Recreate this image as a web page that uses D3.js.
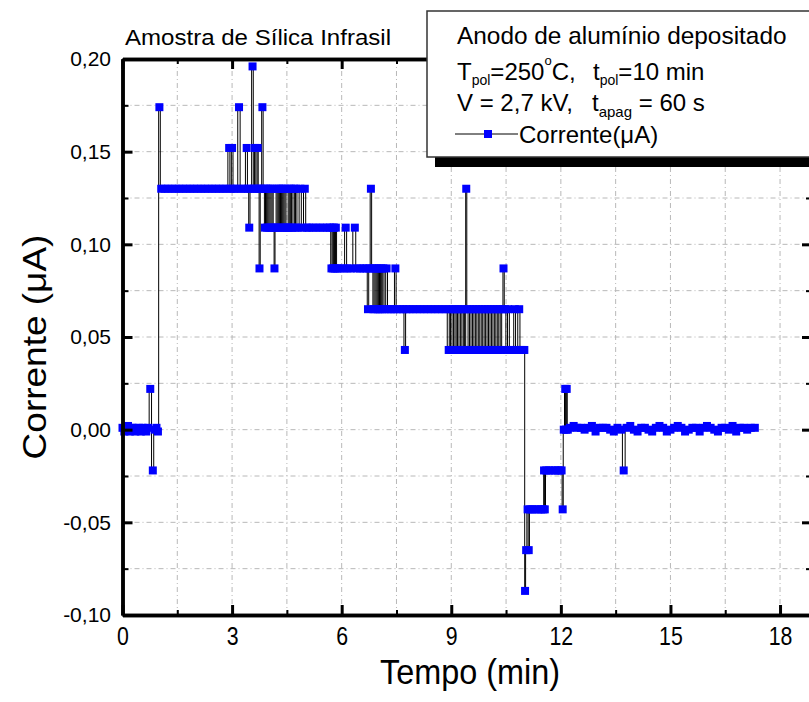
<!DOCTYPE html>
<html>
<head>
<meta charset="utf-8">
<title>Corrente x Tempo</title>
<script src="https://d3js.org/d3.v7.min.js"></script>
<style>
    body { margin: 0; background: #fff; }
    svg text { font-family: "Liberation Sans", Arial, sans-serif; fill: #000; }
</style>
</head>
<body>
<svg width="809" height="702" id="mainSvg"></svg>
<script>
    // leituras (min, uA)
    const tempo = [
        0.00, 0.05, 0.10, 0.15, 0.20, 0.25, 0.30, 0.35, 0.40, 0.45, 0.50, 0.55, 0.60, 0.65, 0.70, 0.76, 0.83, 0.88, 0.93, 0.97,
        1.01, 1.06,
        1.15, 1.25, 1.35, 1.45, 1.55, 1.65, 1.75, 1.85, 1.95, 2.05, 2.15, 2.25, 2.35, 2.45, 2.55, 2.65, 2.75, 2.85,
        2.92, 2.96, 3.00, 3.05, 3.12, 3.19, 3.25, 3.33, 3.40, 3.44, 3.47, 3.51, 3.56, 3.60, 3.63, 3.67, 3.70, 3.73, 3.75, 3.79, 3.83, 3.87,
        3.90, 3.93, 3.96, 3.99, 4.02, 4.05, 4.08, 4.11, 4.14, 4.16, 4.19, 4.22, 4.25, 4.28, 4.31, 4.34, 4.37,
        4.40, 4.43, 4.46, 4.49, 4.52, 4.55, 4.58, 4.61, 4.64, 4.69, 4.72, 4.75, 4.80, 4.87, 4.92, 4.99, 5.04,
        5.10, 5.20, 5.30, 5.40, 5.50, 5.60, 5.68, 5.72, 5.75, 5.77, 5.79, 5.82, 5.84, 5.88,
        5.95, 6.05, 6.11, 6.16, 6.25, 6.36, 6.41, 6.50, 6.60, 6.68,
        6.72, 6.76, 6.80, 6.84, 6.87, 6.90, 6.93, 6.96, 6.99, 7.02, 7.05, 7.08, 7.11, 7.14, 7.18, 7.23,
        7.28, 7.35, 7.42, 7.47, 7.51, 7.60, 7.68, 7.73, 7.77,
        7.85, 7.95, 8.05, 8.15, 8.25, 8.35, 8.45, 8.55, 8.65, 8.75, 8.85,
        8.93, 8.96, 9.00, 9.04, 9.08, 9.12, 9.15, 9.19, 9.23, 9.27, 9.31, 9.35, 9.38, 9.41, 9.44,
        9.48, 9.52, 9.56, 9.60, 9.64, 9.68, 9.72, 9.76, 9.80, 9.84, 9.88, 9.92,
        9.96, 10.00, 10.04, 10.08, 10.12, 10.16, 10.20, 10.24, 10.28, 10.32, 10.36, 10.40,
        10.43, 10.47, 10.52, 10.56, 10.62, 10.68, 10.74, 10.78, 10.86, 10.90, 10.95, 11.00,
        11.02, 11.05, 11.09, 11.12, 11.16, 11.22, 11.30, 11.38, 11.46, 11.52, 11.54, 11.56, 11.60,
        11.68, 11.76, 11.84, 11.92, 11.98, 12.02, 12.05, 12.08, 12.12, 12.14, 12.16, 12.19,
        12.25, 12.35, 12.45, 12.55, 12.65, 12.75, 12.85, 12.95, 13.05, 13.15,
        13.25, 13.35, 13.45, 13.55, 13.65, 13.72, 13.80, 13.90, 14.00, 14.10,
        14.20, 14.30, 14.40, 14.50, 14.60, 14.70, 14.80, 14.90, 15.00, 15.10,
        15.20, 15.30, 15.40, 15.50, 15.60, 15.70, 15.80, 15.90, 16.00, 16.10,
        16.20, 16.30, 16.40, 16.50, 16.60, 16.70, 16.80, 16.90, 17.00, 17.10,
        17.20, 17.31
    ];
    const corrente = [
        0.001, -0.001, 0.000, 0.002, -0.001, 0.001, 0.001, -0.001, 0.000, 0.001, -0.001, 0.001, 0.000, -0.001, 0.001, 0.022, -0.022, 0.000, 0.001, -0.001,
        0.174, 0.130,
        0.130, 0.130, 0.130, 0.130, 0.130, 0.130, 0.130, 0.130, 0.130, 0.130, 0.130, 0.130, 0.130, 0.130, 0.130, 0.130, 0.130, 0.130,
        0.152, 0.130, 0.152, 0.130, 0.130, 0.174, 0.130, 0.130, 0.152, 0.130, 0.109, 0.130, 0.196, 0.130, 0.152, 0.130, 0.152, 0.130, 0.087, 0.130, 0.174, 0.130,
        0.109, 0.130, 0.109, 0.130, 0.109, 0.130, 0.109, 0.130, 0.109, 0.087, 0.109, 0.130, 0.109, 0.130, 0.109, 0.130, 0.109,
        0.130, 0.109, 0.130, 0.109, 0.109, 0.130, 0.109, 0.130, 0.109, 0.130, 0.109, 0.130, 0.109, 0.130, 0.109, 0.130, 0.109,
        0.109, 0.109, 0.109, 0.109, 0.109, 0.109, 0.109, 0.087, 0.109, 0.087, 0.109, 0.087, 0.109, 0.087,
        0.087, 0.087, 0.109, 0.087, 0.087, 0.109, 0.087, 0.087, 0.087, 0.087,
        0.065, 0.087, 0.130, 0.087, 0.065, 0.087, 0.065, 0.087, 0.065, 0.087, 0.065, 0.087, 0.065, 0.087, 0.065, 0.087,
        0.065, 0.065, 0.065, 0.087, 0.065, 0.065, 0.065, 0.043, 0.065,
        0.065, 0.065, 0.065, 0.065, 0.065, 0.065, 0.065, 0.065, 0.065, 0.065, 0.065,
        0.043, 0.065, 0.043, 0.065, 0.043, 0.065, 0.043, 0.065, 0.043, 0.065, 0.043, 0.065, 0.043, 0.130, 0.065,
        0.043, 0.065, 0.043, 0.065, 0.043, 0.065, 0.043, 0.065, 0.043, 0.065, 0.043, 0.065,
        0.043, 0.065, 0.043, 0.065, 0.043, 0.065, 0.043, 0.065, 0.043, 0.065, 0.043, 0.065,
        0.087, 0.065, 0.043, 0.065, 0.043, 0.043, 0.065, 0.043, 0.065, 0.043, 0.043, 0.043,
        -0.087, -0.065, -0.043, -0.065, -0.043, -0.043, -0.043, -0.043, -0.043, -0.043, -0.022, -0.043, -0.022,
        -0.022, -0.022, -0.022, -0.022, -0.022, -0.022, -0.043, 0.000, 0.022, 0.000, 0.022, 0.000,
        0.001, 0.002, 0.001, 0.001, 0.000, 0.001, 0.002, -0.001, 0.001, 0.001,
        0.001, 0.000, -0.001, 0.001, 0.000, -0.022, 0.001, 0.002, 0.000, -0.001,
        0.001, 0.001, 0.000, -0.001, 0.001, 0.002, 0.001, -0.001, 0.000, 0.001,
        0.002, 0.001, -0.001, 0.000, 0.001, 0.001, -0.001, 0.001, 0.002, 0.001,
        0.000, -0.001, 0.001, 0.001, 0.000, 0.002, -0.001, 0.001, 0.001, 0.000,
        0.001, 0.001
    ];

    const xTicks = [0, 3, 6, 9, 12, 15, 18];
    const xMinor = [1.5, 4.5, 7.5, 10.5, 13.5, 16.5];
    const yTicks = [-0.10, -0.05, 0.00, 0.05, 0.10, 0.15, 0.20];
    const yMinor = [-0.075, -0.025, 0.025, 0.075, 0.125, 0.175];

    const mainSvg = d3.select('#mainSvg');
    const pLeft = 122.5, pRight = 812, pTop = 59, pBottom = 615;

    const x = d3.scaleLinear().domain([0, 18.875]).range([pLeft, pRight]);
    const y = d3.scaleLinear().domain([-0.10, 0.20]).range([pBottom, pTop]);

    const data = tempo.map((t, i) => ({ t: t, v: corrente[i] })).filter(d => d.v !== undefined);
    const virgula = d => d3.format(".2f")(d).replace(".", ",").replace("\u2212", "-");

    // grade tracejada
    const grid = mainSvg.append("g")
        .attr("stroke", "#b8b8b8")
        .attr("stroke-width", 1)
        .attr("stroke-dasharray", "5,3,1,3");
    grid.selectAll(".gx").data(xTicks.concat(xMinor).filter(d => d > 0)).join("line")
        .attr("class", "gx")
        .attr("x1", d => x(d)).attr("x2", d => x(d))
        .attr("y1", pTop).attr("y2", pBottom);
    grid.selectAll(".gy").data(yTicks.concat(yMinor).filter(d => d > -0.1 && d < 0.2)).join("line")
        .attr("class", "gy")
        .attr("y1", d => y(d)).attr("y2", d => y(d))
        .attr("x1", pLeft).attr("x2", pRight);

    // serie: leituras densas -> transicoes verticais
    const line = d3.line().curve(d3.curveStep).x(d => x(d.t)).y(d => y(d.v));
    mainSvg.append("path")
        .datum(data)
        .attr("fill", "none")
        .attr("stroke", "#000")
        .attr("stroke-width", 1)
        .attr("d", line);

    const sq = 8;
    mainSvg.append("g").selectAll("rect").data(data).join("rect")
        .attr("x", d => x(d.t) - sq / 2)
        .attr("y", d => y(d.v) - sq / 2)
        .attr("width", sq)
        .attr("height", sq)
        .attr("fill", "#0000ff");

    // eixos
    const styleAxis = (g, w) => {
        g.select(".domain").attr("stroke", "#000").attr("stroke-width", 3.5);
        g.selectAll(".tick line").attr("stroke", "#000").attr("stroke-width", w);
    };

    const axes = [
        { gen: d3.axisBottom(x), tr: `translate(0,${pBottom})` },
        { gen: d3.axisTop(x), tr: `translate(0,${pTop})` }
    ];
    axes.forEach(a => {
        mainSvg.append("g").attr("transform", a.tr)
            .call(a.gen.tickValues(xMinor).tickSize(-5).tickSizeOuter(0).tickFormat(""))
            .call(g => styleAxis(g, 2));
    });
    const yAxes = [
        { gen: d3.axisLeft(y), tr: `translate(${pLeft},0)` },
        { gen: d3.axisRight(y), tr: `translate(${pRight},0)` }
    ];
    yAxes.forEach(a => {
        mainSvg.append("g").attr("transform", a.tr)
            .call(a.gen.tickValues(yMinor).tickSize(-6).tickSizeOuter(0).tickFormat(""))
            .call(g => styleAxis(g, 2));
    });

    const xAxis = mainSvg.append("g").attr("transform", `translate(0,${pBottom})`)
        .call(d3.axisBottom(x).tickValues(xTicks).tickSize(-10).tickSizeOuter(0).tickPadding(11.5).tickFormat(d3.format("d")))
        .call(g => styleAxis(g, 3));
    xAxis.selectAll("text")
        .attr("font-size", 26)
        .attr("transform", "scale(0.82,1)");

    mainSvg.append("g").attr("transform", `translate(0,${pTop})`)
        .call(d3.axisTop(x).tickValues(xTicks).tickSize(-10).tickSizeOuter(0).tickFormat(""))
        .call(g => styleAxis(g, 3));

    const yAxis = mainSvg.append("g").attr("transform", `translate(${pLeft},0)`)
        .call(d3.axisLeft(y).tickValues(yTicks).tickSize(-10).tickSizeOuter(0).tickPadding(11.5).tickFormat(virgula))
        .call(g => styleAxis(g, 3));
    yAxis.selectAll("text").attr("font-size", 21);

    mainSvg.append("g").attr("transform", `translate(${pRight},0)`)
        .call(d3.axisRight(y).tickValues(yTicks).tickSize(-10).tickSizeOuter(0).tickFormat(""))
        .call(g => styleAxis(g, 3));

    // titulos
    mainSvg.append("text")
        .attr("x", 125).attr("y", 45)
        .attr("font-size", 22)
        .attr("textLength", 266)
        .attr("lengthAdjust", "spacingAndGlyphs")
        .text("Amostra de Sílica Infrasil");

    mainSvg.append("text")
        .attr("transform", "translate(46,347) rotate(-90) scale(1,0.9)")
        .attr("text-anchor", "middle")
        .attr("font-size", 37)
        .text("Corrente (\u03bcA)");

    mainSvg.append("text")
        .attr("transform", "translate(470,684) scale(0.9,1)")
        .attr("text-anchor", "middle")
        .attr("font-size", 36)
        .text("Tempo (min)");

    // legenda
    const leg = mainSvg.append("g");
    leg.append("rect")
        .attr("x", 435).attr("y", 21).attr("width", 420).attr("height", 146)
        .attr("fill", "#000");
    leg.append("rect")
        .attr("x", 427).attr("y", 11).attr("width", 420).attr("height", 146)
        .attr("fill", "#fff").attr("stroke", "#333").attr("stroke-width", 1.5);

    leg.append("text").attr("x", 457).attr("y", 44).attr("font-size", 24.4)
        .text("Anodo de alumínio depositado");

    const l2 = leg.append("text").attr("x", 457).attr("y", 80).attr("font-size", 24);
    l2.append("tspan").text("T");
    l2.append("tspan").attr("font-size", 14).attr("dy", 5).text("pol");
    l2.append("tspan").attr("dy", -5).text("=250");
    l2.append("tspan").attr("font-size", 13).attr("dy", -15).text("o");
    l2.append("tspan").attr("dy", 15).text("C,");
    l2.append("tspan").attr("x", 593).text("t");
    l2.append("tspan").attr("font-size", 14).attr("dy", 5).text("pol");
    l2.append("tspan").attr("dy", -5).text("=10 min");

    const l3 = leg.append("text").attr("x", 457).attr("y", 111).attr("font-size", 24);
    l3.append("tspan").text("V = 2,7 kV,");
    l3.append("tspan").attr("x", 592).text("t");
    l3.append("tspan").attr("font-size", 15).attr("dy", 6).text("apag");
    l3.append("tspan").attr("dy", -6).text(" = 60 s");

    leg.append("line")
        .attr("x1", 455).attr("x2", 518).attr("y1", 134).attr("y2", 134)
        .attr("stroke", "#000").attr("stroke-width", 1);
    leg.append("rect")
        .attr("x", 488 - sq / 2).attr("y", 134 - sq / 2).attr("width", sq).attr("height", sq)
        .attr("fill", "#0000ff");
    leg.append("text").attr("x", 519).attr("y", 143).attr("font-size", 24)
        .text("Corrente(\u03bcA)");
</script>
</body>
</html>
